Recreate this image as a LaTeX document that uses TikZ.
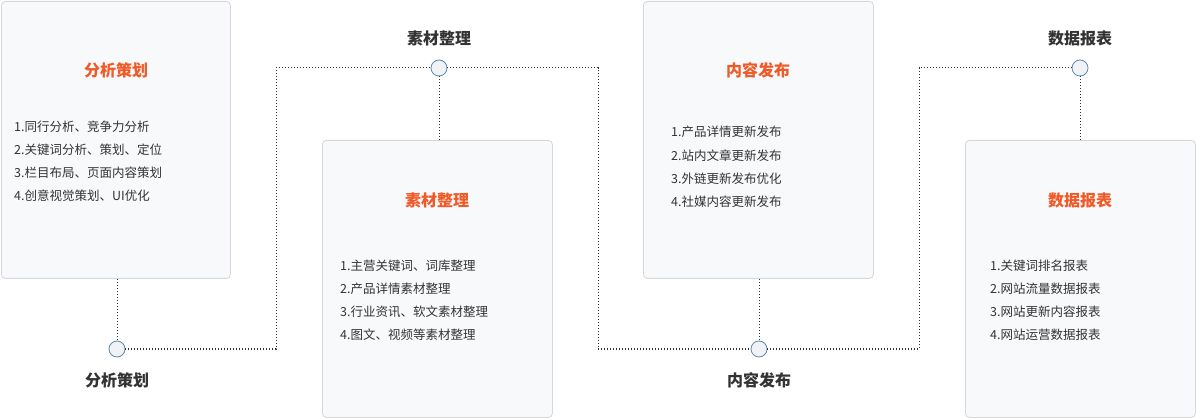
\documentclass[tikz,border=0pt]{standalone}
\usepackage{fontspec}
\setmainfont{Noto Sans CJK SC}
\newfontfamily\cjkb{Noto Sans CJK SC Bold}
\definecolor{orng}{HTML}{F05A28}
\definecolor{txt}{HTML}{333333}
\definecolor{bfill}{HTML}{F8F9FB}
\definecolor{bline}{HTML}{D5D7DB}
\definecolor{cline}{HTML}{5A8AB0}
\definecolor{cfill}{HTML}{F0F2F5}
\tikzset{
 card/.style={draw=bline,fill=bfill,rounded corners=4pt,line width=0.8pt},
 ttl/.style={text=orng,font=\fontsize{16}{18}\selectfont\bfseries},
 lbl/.style={text=txt,font=\fontsize{16}{18}\selectfont\bfseries},
 itm/.style={text=txt,anchor=west,font=\fontsize{12.5}{14}\selectfont,inner sep=0pt},
 dot/.style={circle,draw=cline,fill=cfill,minimum size=16pt,inner sep=0pt,line width=0.8pt},
 conn/.style={dotted,line width=1pt,draw=txt}
}
\begin{document}
\begin{tikzpicture}[x=1pt,y=-1pt]
\useasboundingbox (0,0) rectangle (1196,419);
\node[card,minimum width=229pt,minimum height=277pt,anchor=north west] (b1) at (1,1) {};
\node[card,minimum width=230pt,minimum height=277pt,anchor=north west] (b2) at (322,140) {};
\node[card,minimum width=230pt,minimum height=277pt,anchor=north west] (b3) at (643,1) {};
\node[card,minimum width=230pt,minimum height=277pt,anchor=north west] (b4) at (965,140) {};
\node[ttl] (t1) at (116,70) {分析策划};
\node[ttl] (t2) at (437,200) {素材整理};
\node[ttl] (t3) at (758,70) {内容发布};
\node[ttl] (t4) at (1080,200) {数据报表};
\node[itm] (a1) at (14,127) {1.同行分析、竞争力分析};
\node[itm] (a2) at (14,150) {2.关键词分析、策划、定位};
\node[itm] (a3) at (14,173) {3.栏目布局、页面内容策划};
\node[itm] (a4) at (14,196) {4.创意视觉策划、UI优化};
\node[itm] (c1) at (340,266) {1.主营关键词、词库整理};
\node[itm] (c2) at (340,289) {2.产品详情素材整理};
\node[itm] (c3) at (340,312) {3.行业资讯、软文素材整理};
\node[itm] (c4) at (340,335) {4.图文、视频等素材整理};
\node[itm] (d1) at (671,132) {1.产品详情更新发布};
\node[itm] (d2) at (671,156) {2.站内文章更新发布};
\node[itm] (d3) at (671,179) {3.外链更新发布优化};
\node[itm] (d4) at (671,202) {4.社媒内容更新发布};
\node[itm] (e1) at (990,266) {1.关键词排名报表};
\node[itm] (e2) at (990,289) {2.网站流量数据报表};
\node[itm] (e3) at (990,312) {3.网站更新内容报表};
\node[itm] (e4) at (990,335) {4.网站运营数据报表};
\node[dot] (p1) at (117,349) {};
\node[dot] (p2) at (439,68) {};
\node[dot] (p3) at (759,349) {};
\node[dot] (p4) at (1080,68) {};
\node[lbl] (l1) at (117,380) {分析策划};
\node[lbl] (l2) at (439,38) {素材整理};
\node[lbl] (l3) at (759,380) {内容发布};
\node[lbl] (l4) at (1080,38) {数据报表};
\draw[conn] (b1.south -| p1) -- (p1.north);
\draw[conn] (p1.east) -- (276,349) -- (276,68) -- (p2.west);
\draw[conn] (p2.south) -- (b2.north -| p2);
\draw[conn] (p2.east) -- (598,68) -- (598,349) -- (p3.west);
\draw[conn] (b3.south -| p3) -- (p3.north);
\draw[conn] (p3.east) -- (919,349) -- (919,68) -- (p4.west);
\draw[conn] (p4.south) -- (b4.north -| p4);
\end{tikzpicture}
\end{document}
